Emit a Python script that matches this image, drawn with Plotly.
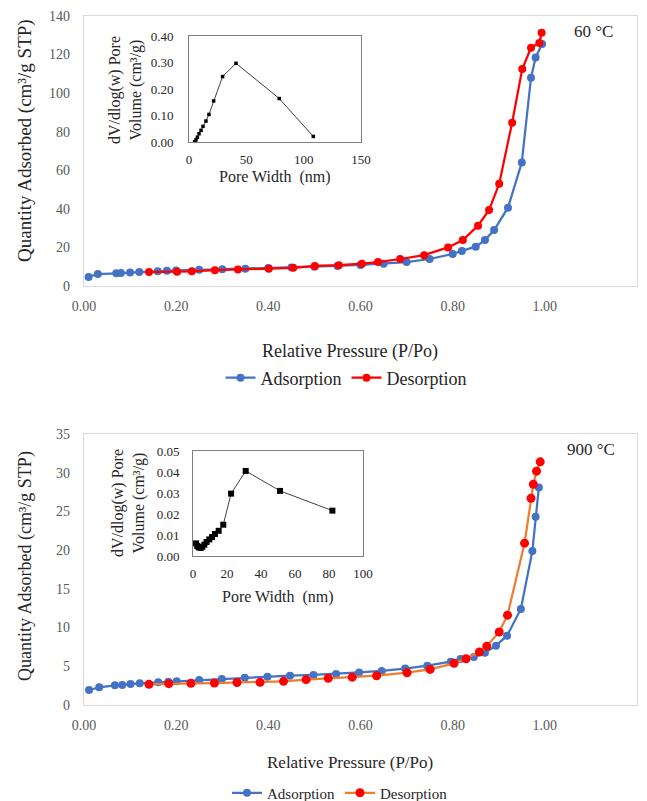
import plotly.graph_objects as go

# ---------------- data ----------------
# 60 °C isotherm
p60_ads = [0.01, 0.03, 0.07, 0.08, 0.10, 0.12, 0.16, 0.18, 0.20, 0.25, 0.30, 0.35, 0.40, 0.45, 0.50,
           0.55, 0.60, 0.65, 0.70, 0.75, 0.80, 0.82, 0.85, 0.87, 0.89, 0.92, 0.95, 0.97, 0.98, 0.994]
q60_ads = [4.7, 6.2, 6.6, 6.8, 7.0, 7.2, 7.6, 7.9, 8.1, 8.4, 8.7, 9.0, 9.3, 9.6, 10.0,
           10.4, 10.9, 11.5, 12.4, 14.0, 16.6, 18.2, 20.4, 23.8, 29.0, 40.6, 64.0, 108.0, 118.5, 125.5]
p60_des = [0.141, 0.202, 0.234, 0.284, 0.334, 0.401, 0.454, 0.501, 0.553, 0.603, 0.638, 0.686,
           0.738, 0.790, 0.822, 0.855, 0.879, 0.901, 0.929, 0.951, 0.970, 0.988, 0.993]
q60_des = [7.2, 7.4, 7.6, 8.2, 8.5, 9.0, 9.4, 10.4, 10.8, 11.6, 12.4, 14.0,
           16.0, 20.0, 23.8, 31.3, 39.4, 53.0, 84.7, 112.5, 123.6, 126.0, 131.3]

# 60 °C pore size distribution (inset)
w60 = [4.9, 6.1, 7.3, 8.7, 10.5, 12.2, 14.8, 17.4, 21.5, 29.3, 41.0, 78.7, 108.4]
v60 = [0.001, 0.008, 0.018, 0.031, 0.044, 0.059, 0.079, 0.104, 0.155, 0.247, 0.297, 0.164, 0.021]

# 900 °C isotherm
p900_ads = [0.011, 0.033, 0.067, 0.083, 0.101, 0.121, 0.161, 0.183, 0.201, 0.25, 0.299, 0.349, 0.398,
            0.447, 0.498, 0.547, 0.597, 0.646, 0.697, 0.745, 0.796, 0.817, 0.846, 0.870, 0.894,
            0.918, 0.948, 0.973, 0.980, 0.987]
q900_ads = [1.94, 2.28, 2.54, 2.58, 2.71, 2.8, 2.93, 3.0, 3.06, 3.23, 3.36, 3.53, 3.66,
            3.79, 3.88, 4.0, 4.2, 4.4, 4.7, 5.08, 5.6, 5.94, 6.2, 6.76, 7.66,
            8.95, 12.4, 19.9, 24.3, 28.1]
p900_des = [0.141, 0.184, 0.232, 0.283, 0.332, 0.382, 0.433, 0.482, 0.530, 0.582, 0.635, 0.701,
            0.751, 0.803, 0.829, 0.858, 0.874, 0.901, 0.919, 0.956, 0.970, 0.975, 0.982, 0.990]
q900_des = [2.67, 2.76, 2.8, 2.84, 2.9, 2.93, 3.06, 3.27, 3.45, 3.6, 3.78, 4.17,
            4.6, 5.38, 5.98, 6.85, 7.6, 9.43, 11.6, 20.9, 26.7, 28.5, 30.2, 31.4]

# 900 °C pore size distribution (inset)
w900 = [1.8, 2.5, 3.3, 4.5, 5.5, 6.7, 8.0, 9.6, 11.2, 12.9, 15.1, 17.8, 22.4, 31.0, 51.2, 82.0]
v900 = [0.006, 0.0048, 0.0041, 0.0038, 0.0044, 0.0054, 0.0067, 0.0079, 0.009, 0.0105,
        0.012, 0.0149, 0.0297, 0.0405, 0.031, 0.0216]

# ---------------- styling ----------------
W, H = 647, 801
FONT = "Liberation Serif"
BLUE = "#4472C4"
RED = "#FF0000"
ORANGE = "#ED7D31"


def px(x):
    return x / W


def py(y):
    return 1 - y / H


fig = go.Figure()

# top main
fig.add_trace(go.Scatter(x=p60_ads, y=q60_ads, mode="lines+markers", name="Adsorption",
                         line=dict(color=BLUE, width=2.25), marker=dict(color=BLUE, size=8),
                         xaxis="x", yaxis="y", legend="legend"))
fig.add_trace(go.Scatter(x=p60_des, y=q60_des, mode="lines+markers", name="Desorption",
                         line=dict(color=RED, width=2.25), marker=dict(color=RED, size=8),
                         xaxis="x", yaxis="y", legend="legend"))
# top inset
fig.add_trace(go.Scatter(x=w60, y=v60, mode="lines+markers", showlegend=False,
                         line=dict(color="#404040", width=1),
                         marker=dict(color="black", size=3.5, symbol="square"),
                         xaxis="x2", yaxis="y2"))
# bottom main
fig.add_trace(go.Scatter(x=p900_ads, y=q900_ads, mode="lines+markers", name="Adsorption",
                         line=dict(color=BLUE, width=2.25), marker=dict(color=BLUE, size=8),
                         xaxis="x3", yaxis="y3", legend="legend2"))
fig.add_trace(go.Scatter(x=p900_des, y=q900_des, mode="lines+markers", name="Desorption",
                         line=dict(color=ORANGE, width=2.25), marker=dict(color=RED, size=9),
                         xaxis="x3", yaxis="y3", legend="legend2"))
# bottom inset
fig.add_trace(go.Scatter(x=w900, y=v900, mode="lines+markers", showlegend=False,
                         line=dict(color="#404040", width=1),
                         marker=dict(color="black", size=6, symbol="square"),
                         xaxis="x4", yaxis="y4"))

main_ax = dict(showline=True, mirror=True, linecolor="#D9D9D9", linewidth=1.2,
               showgrid=False, zeroline=False, ticks="", automargin=False,
               tickfont=dict(family=FONT, size=14, color="#595959"))
inset_ax = dict(showline=True, mirror=True, linecolor="#7F7F7F", linewidth=1,
                showgrid=False, zeroline=False, ticks="", automargin=False,
                tickfont=dict(family=FONT, size=13, color="#262626"))

fig.update_layout(
    width=W, height=H, margin=dict(l=0, r=0, t=0, b=0, autoexpand=False),
    paper_bgcolor="white", plot_bgcolor="rgba(0,0,0,0)",
    font=dict(family=FONT),
    xaxis=dict(main_ax, domain=[px(84), px(637)], range=[0, 1.2], dtick=0.2, tickformat=".2f",
               anchor="y", ticklabelstandoff=7),
    yaxis=dict(main_ax, domain=[py(286), py(16)], range=[0, 140], dtick=20,
               anchor="x", ticklabelstandoff=10),
    xaxis2=dict(inset_ax, domain=[px(189), px(361)], range=[0, 150], dtick=50,
                anchor="y2", ticklabelstandoff=5),
    yaxis2=dict(inset_ax, domain=[py(142), py(36)], range=[0, 0.40], dtick=0.1, tickformat=".2f",
                anchor="x2", ticklabelstandoff=12),
    xaxis3=dict(main_ax, domain=[px(84), px(637)], range=[0, 1.2], dtick=0.2, tickformat=".2f",
                anchor="y3", ticklabelstandoff=7),
    yaxis3=dict(main_ax, domain=[py(705), py(434)], range=[0, 35], dtick=5,
                anchor="x3", ticklabelstandoff=10),
    xaxis4=dict(inset_ax, domain=[px(193), px(363)], range=[0, 100], dtick=20,
                anchor="y4", ticklabelstandoff=5),
    yaxis4=dict(inset_ax, domain=[py(556), py(451)], range=[0, 0.05], dtick=0.01, tickformat=".2f",
                anchor="x4", ticklabelstandoff=10),
    legend=dict(orientation="h", x=px(346), xanchor="center", y=py(378), yanchor="middle",
                font=dict(family=FONT, size=18, color="#262626"), bgcolor="rgba(0,0,0,0)"),
    legend2=dict(orientation="h", x=px(340), xanchor="center", y=py(793), yanchor="middle",
                 font=dict(family=FONT, size=15, color="#262626"), bgcolor="rgba(0,0,0,0)"),
)

annots = [
    # top chart
    dict(text="Quantity Adsorbed (cm³/g STP)", x=px(25), y=py(141), textangle=-90, size=19),
    dict(text="Relative Pressure (P/Po)", x=px(350), y=py(352), textangle=0, size=18),
    dict(text="60 °C", x=px(593), y=py(32), textangle=0, size=17),
    dict(text="dV/dlog(w) Pore<br>Volume (cm³/g)", x=px(125), y=py(90), textangle=-90, size=16),
    dict(text="Pore Width  (nm)", x=px(275), y=py(177), textangle=0, size=16),
    # bottom chart
    dict(text="Quantity Adsorbed (cm³/g STP)", x=px(25), y=py(566), textangle=-90, size=18),
    dict(text="Relative Pressure (P/Po)", x=px(350), y=py(762), textangle=0, size=17),
    dict(text="900 °C", x=px(591), y=py(449), textangle=0, size=17),
    dict(text="dV/dlog(w) Pore<br>Volume (cm³/g)", x=px(128), y=py(503), textangle=-90, size=16),
    dict(text="Pore Width  (nm)", x=px(278), y=py(597), textangle=0, size=16),
]
for a in annots:
    fig.add_annotation(text=a["text"], x=a["x"], y=a["y"], xref="paper", yref="paper",
                       xanchor="center", yanchor="middle", showarrow=False,
                       textangle=a["textangle"],
                       font=dict(family=FONT, size=a["size"], color="#262626"))

fig.write_html("out.html")
